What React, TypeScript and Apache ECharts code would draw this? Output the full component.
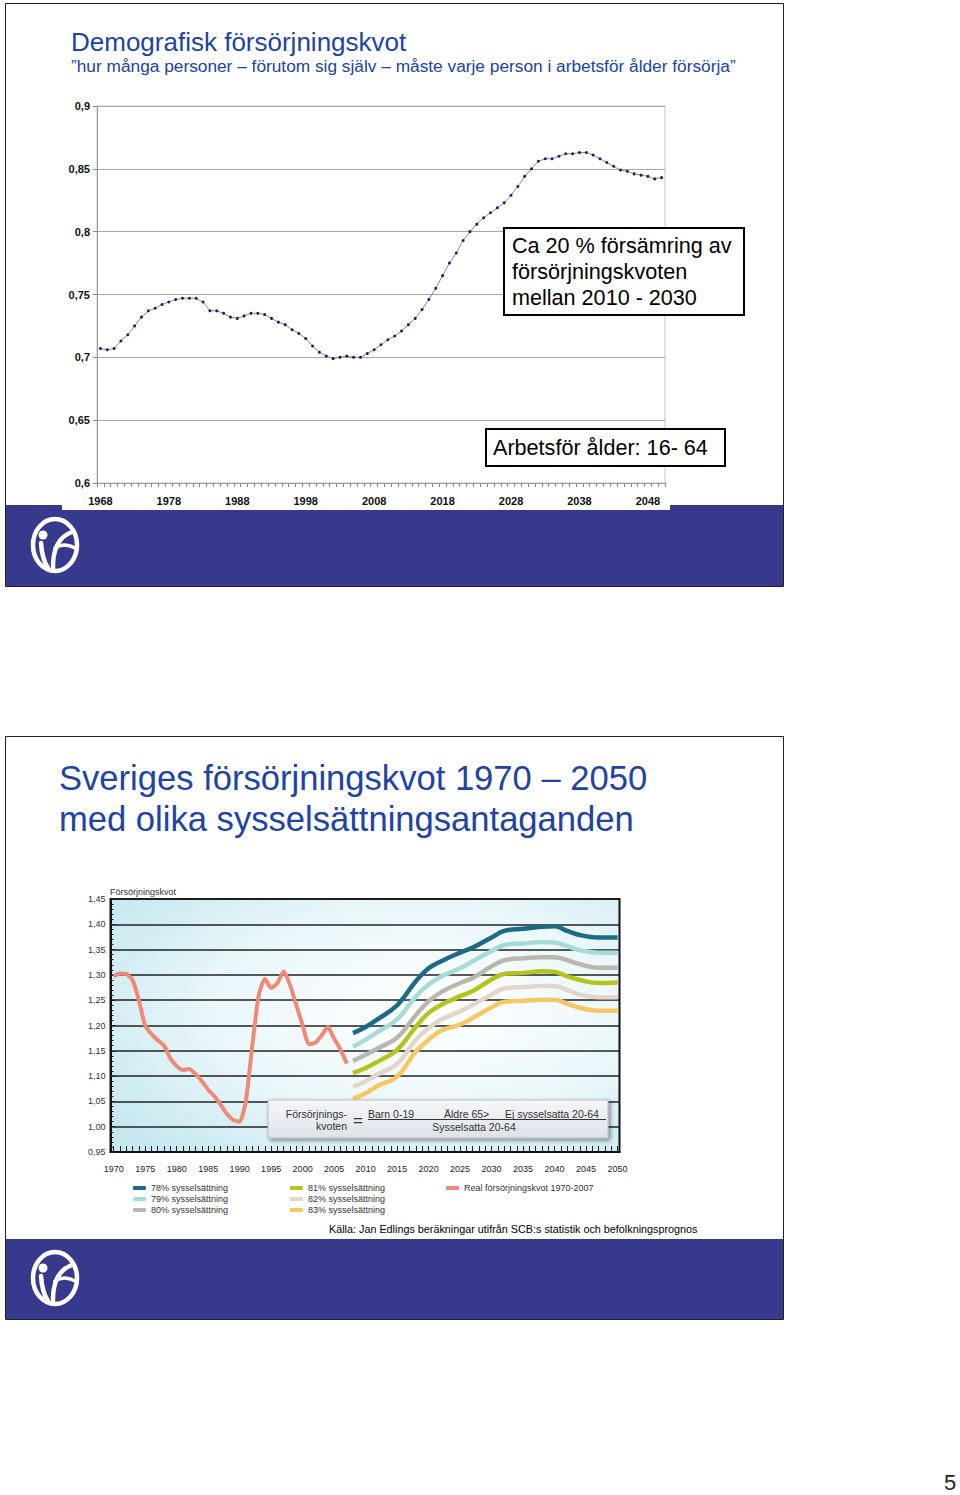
import React, { useEffect, useRef } from "react";
import * as echarts from "echarts";

// ---------- Top chart data ----------
const topYears: string[] = Array.from({ length: 83 }, (_, i) => String(1968 + i));
const topValues: number[] = [
  0.707, 0.706, 0.707, 0.713, 0.718, 0.725, 0.732, 0.737, 0.739, 0.742,
  0.744, 0.746, 0.747, 0.747, 0.747, 0.744, 0.737, 0.737, 0.735, 0.732,
  0.731, 0.733, 0.735, 0.735, 0.734, 0.731, 0.728, 0.726, 0.722, 0.719,
  0.715, 0.709, 0.704, 0.701, 0.699, 0.700, 0.701, 0.700, 0.700, 0.703,
  0.706, 0.710, 0.714, 0.717, 0.721, 0.726, 0.731, 0.738, 0.746, 0.755,
  0.765, 0.775, 0.783, 0.793, 0.800, 0.806, 0.811, 0.815, 0.819, 0.823,
  0.829, 0.836, 0.844, 0.850, 0.856, 0.858, 0.858, 0.860, 0.862, 0.862,
  0.863, 0.863, 0.861, 0.858, 0.855, 0.852, 0.849, 0.848, 0.846, 0.845,
  0.844, 0.842, 0.843,
];

// ---------- Bottom chart data ----------
const realYears: number[] = Array.from({ length: 38 }, (_, i) => 1970 + i);
const realValues: number[] = [
  1.297, 1.303, 1.302, 1.29, 1.25, 1.2, 1.183, 1.171, 1.16, 1.135,
  1.12, 1.112, 1.114, 1.104, 1.09, 1.073, 1.06, 1.043, 1.025, 1.013,
  1.01, 1.052, 1.16, 1.258, 1.292, 1.274, 1.284, 1.307, 1.28, 1.24,
  1.2, 1.163, 1.166, 1.18, 1.197, 1.174, 1.153, 1.125,
];
const projYears: number[] = [2008, 2010, 2012, 2015, 2018, 2020, 2022, 2025, 2027, 2030, 2032, 2035, 2038, 2040, 2042, 2044, 2047, 2050];
const emp78: number[] = [1.185, 1.197, 1.213, 1.24, 1.288, 1.313, 1.327, 1.344, 1.354, 1.374, 1.387, 1.391, 1.395, 1.396, 1.387, 1.379, 1.374, 1.374];
const emp79: number[] = [1.158, 1.172, 1.188, 1.212, 1.258, 1.281, 1.297, 1.313, 1.327, 1.347, 1.359, 1.362, 1.365, 1.364, 1.357, 1.349, 1.344, 1.344];
const emp80: number[] = [1.13, 1.142, 1.155, 1.176, 1.221, 1.248, 1.266, 1.284, 1.294, 1.317, 1.329, 1.333, 1.335, 1.335, 1.329, 1.321, 1.314, 1.314];
const emp81: number[] = [1.106, 1.116, 1.129, 1.152, 1.198, 1.225, 1.241, 1.258, 1.268, 1.291, 1.302, 1.304, 1.307, 1.306, 1.297, 1.29, 1.284, 1.285];
const emp82: number[] = [1.079, 1.09, 1.104, 1.124, 1.172, 1.195, 1.212, 1.228, 1.241, 1.261, 1.273, 1.276, 1.278, 1.278, 1.27, 1.261, 1.256, 1.256];
const emp83: number[] = [1.055, 1.066, 1.081, 1.099, 1.149, 1.172, 1.19, 1.202, 1.215, 1.236, 1.247, 1.249, 1.251, 1.251, 1.243, 1.235, 1.229, 1.229];
const bottomLabelYears: number[] = [1970, 1975, 1980, 1985, 1990, 1995, 2000, 2005, 2010, 2015, 2020, 2025, 2030, 2035, 2040, 2045, 2050];
const bottomTickYears: number[] = Array.from({ length: 81 }, (_, i) => 1970 + i);

const seriesNames = [
  "78% sysselsättning",
  "79% sysselsättning",
  "80% sysselsättning",
  "81% sysselsättning",
  "82% sysselsättning",
  "83% sysselsättning",
];
const realName = "Real försörjningskvot 1970-2007";
const projColors = ["#1b6a86", "#a6dcd6", "#bab7ae", "#b6c21e", "#e2d6ca", "#f7c765"];
const realColor = "#f08a76";

const BLUE = "#373a8c";
const TITLE_BLUE = "#2143a3";

function logo(cx: number, cy: number) {
  const s = { stroke: "#fff", fill: "none", lineWidth: 4.5, lineCap: "round" };
  return [
    { type: "ellipse", z: 5, shape: { cx, cy, rx: 22, ry: 26 }, style: { ...s } },
    { type: "circle", z: 5, shape: { cx: cx - 12, cy: cy - 10, r: 4.5 }, style: { fill: "#fff" } },
    { type: "bezierCurve", z: 5, shape: { x1: cx - 14, y1: cy - 2, cpx1: cx - 13, cpy1: cy + 14, x2: cx - 7, y2: cy + 23 }, style: { ...s } },
    { type: "bezierCurve", z: 5, shape: { x1: cx - 2, y1: cy + 25, cpx1: cx - 3, cpy1: cy - 6, x2: cx + 17, y2: cy - 13 }, style: { ...s } },
    { type: "bezierCurve", z: 5, shape: { x1: cx, y1: cy + 3, cpx1: cx + 9, cpy1: cy - 3, x2: cx + 20, y2: cy + 3 }, style: { ...s, lineWidth: 3.5 } },
  ];
}

function txt(text: string, x: number, y: number, font: string, fill: string, align = "left", z = 10) {
  return {
    type: "text",
    z,
    style: { text, x, y, font, fill, textAlign: align, textVerticalAlign: "middle", align, verticalAlign: "middle" },
  };
}

const legendText = { fontSize: 9, color: "#333", lineHeight: 10, fontFamily: "'Liberation Sans', Arial" };

export default function App() {
  const ref = useRef<HTMLDivElement>(null);
  useEffect(() => {
    if (!ref.current) return;
    const chart = echarts.init(ref.current, null, { renderer: "svg" });
    const lineSeries = [emp78, emp79, emp80, emp81, emp82, emp83].map((vals, k) => ({
      name: seriesNames[k],
      type: "line",
      xAxisIndex: 1,
      yAxisIndex: 1,
      smooth: 0.4,
      showSymbol: false,
      z: 3,
      itemStyle: { color: projColors[k] },
      lineStyle: { color: projColors[k], width: 4.5 },
      data: projYears.map((y, i) => [y, vals[i]]),
    }));
    const option: any = {
      animation: false,
      backgroundColor: "#fff",
      grid: [
        { left: 97, top: 106, width: 568, height: 377, show: true, backgroundColor: "#fff", borderColor: "#c4c4c4", borderWidth: 1 },
        {
          left: 110.5, top: 899, width: 509, height: 253, show: true,
          borderColor: "#111", borderWidth: 2,
          backgroundColor: new echarts.graphic.RadialGradient(0.62, 0.45, 0.75, [
            { offset: 0, color: "#ffffff" },
            { offset: 0.55, color: "#eaf7fa" },
            { offset: 1, color: "#c6e8f0" },
          ]),
        },
      ],
      xAxis: [
        {
          gridIndex: 0, type: "category", data: topYears, boundaryGap: true,
          axisLine: { lineStyle: { color: "#9a9a9a" } },
          axisTick: { show: true, interval: 0, length: 4, lineStyle: { color: "#888" } },
          axisLabel: { interval: 9, margin: 12, fontSize: 11, fontWeight: "bold", color: "#111", fontFamily: "'Liberation Sans Narrow', 'Liberation Sans', Arial" },
          splitLine: { show: false },
        },
        {
          gridIndex: 1, type: "value", min: 1969.5, max: 2050.3,
          axisLine: { show: true, lineStyle: { color: "#111", width: 2 } },
          axisTick: { show: true, inside: true, length: 6, customValues: bottomTickYears, lineStyle: { color: "#222", width: 1 } },
          axisLabel: { customValues: bottomLabelYears, margin: 12, fontSize: 9, color: "#222", fontFamily: "'Liberation Sans', Arial", formatter: (v: number) => String(Math.round(v)) },
          splitLine: { show: false },
        },
      ],
      yAxis: [
        {
          gridIndex: 0, type: "value", min: 0.6, max: 0.9, interval: 0.05,
          axisLine: { show: true, lineStyle: { color: "#9a9a9a" } },
          axisTick: { show: true, length: 4, lineStyle: { color: "#888" } },
          axisLabel: {
            margin: 7, fontSize: 11, fontWeight: "bold", color: "#111",
            fontFamily: "'Liberation Sans Narrow', 'Liberation Sans', Arial",
            formatter: (v: number) => String(+v.toFixed(2)).replace(".", ","),
          },
          splitLine: { show: true, lineStyle: { color: "#a8a8a8", width: 1 } },
        },
        {
          gridIndex: 1, type: "value", min: 0.95, max: 1.45, interval: 0.05,
          axisLine: { show: true, lineStyle: { color: "#111", width: 2 } },
          axisTick: { show: true, inside: true, length: 5, lineStyle: { color: "#222" } },
          minorTick: { show: true, splitNumber: 5, length: 3, lineStyle: { color: "#222" } },
          axisLabel: {
            margin: 5, fontSize: 9, color: "#333", fontFamily: "'Liberation Sans', Arial",
            formatter: (v: number) => v.toFixed(2).replace(".", ","),
          },
          splitLine: { show: true, lineStyle: { color: "#222", width: 1.5 } },
        },
      ],
      legend: [
        {
          left: 128, top: 1178, orient: "vertical", itemGap: 1, itemWidth: 13, itemHeight: 4, icon: "roundRect",
          data: seriesNames.slice(0, 3), textStyle: legendText,
        },
        {
          left: 285, top: 1178, orient: "vertical", itemGap: 1, itemWidth: 13, itemHeight: 4, icon: "roundRect",
          data: seriesNames.slice(3, 6), textStyle: legendText,
        },
        {
          left: 441, top: 1178, orient: "vertical", itemGap: 1, itemWidth: 13, itemHeight: 4, icon: "roundRect",
          data: [realName], textStyle: legendText,
        },
      ],
      series: [
        {
          name: "Försörjningskvot",
          type: "line", xAxisIndex: 0, yAxisIndex: 0, data: topValues,
          symbol: "circle", symbolSize: 3, showSymbol: true, showAllSymbol: true,
          lineStyle: { color: "#8585b8", width: 1 },
          itemStyle: { color: "#1e1e58" },
        },
        {
          name: realName, type: "line", xAxisIndex: 1, yAxisIndex: 1, smooth: 0.2, showSymbol: false, z: 3,
          itemStyle: { color: realColor }, lineStyle: { color: realColor, width: 4 },
          data: realYears.map((y, i) => [y, realValues[i]]),
        },
        ...lineSeries,
      ],
      graphic: [
        // Top slide frame and footer bar
        { type: "rect", z: -10, shape: { x: 5.5, y: 3.5, width: 778, height: 583 }, style: { fill: "#fff", stroke: "#222", lineWidth: 1 } },
        { type: "rect", z: 1, shape: { x: 6, y: 505, width: 777, height: 81 }, style: { fill: BLUE } },
        { type: "rect", z: 1, shape: { x: 62, y: 505, width: 608, height: 5 }, style: { fill: "#fff" } },
        ...logo(55, 545),
        txt("Demografisk försörjningskvot", 71, 42, "26px 'Liberation Sans', Arial", TITLE_BLUE),
        txt("”hur många personer – förutom sig själv – måste varje person i arbetsför ålder försörja”", 71, 66, "17.3px 'Liberation Sans', Arial", TITLE_BLUE),
        { type: "rect", z: 10, shape: { x: 504, y: 228, width: 240, height: 87 }, style: { fill: "#fff", stroke: "#000", lineWidth: 2 } },
        txt("Ca 20 % försämring av", 512, 245, "21.6px 'Liberation Sans', Arial", "#000", "left", 11),
        txt("försörjningskvoten", 512, 271, "21.6px 'Liberation Sans', Arial", "#000", "left", 11),
        txt("mellan 2010 - 2030", 512, 297, "21.6px 'Liberation Sans', Arial", "#000", "left", 11),
        { type: "rect", z: 10, shape: { x: 486, y: 429, width: 239, height: 37 }, style: { fill: "#fff", stroke: "#000", lineWidth: 2 } },
        txt("Arbetsför ålder: 16- 64", 493, 447, "21.6px 'Liberation Sans', Arial", "#000", "left", 11),

        // Bottom slide frame and footer bar
        { type: "rect", z: -10, shape: { x: 5.5, y: 736.5, width: 778, height: 583 }, style: { fill: "#fff", stroke: "#222", lineWidth: 1 } },
        { type: "rect", z: 1, shape: { x: 6, y: 1239, width: 777, height: 80 }, style: { fill: BLUE } },
        ...logo(55, 1278),
        txt("Sveriges försörjningskvot 1970 – 2050", 59, 778, "34.6px 'Liberation Sans', Arial", TITLE_BLUE),
        txt("med olika sysselsättningsantaganden", 59, 819, "34.6px 'Liberation Sans', Arial", TITLE_BLUE),
        txt("Försörjningskvot", 110, 892, "9px 'Liberation Sans', Arial", "#333"),
        // Formula box
        {
          type: "rect", z: 10, shape: { x: 268, y: 1100, width: 340, height: 38 },
          style: {
            fill: new echarts.graphic.LinearGradient(0, 0, 0, 1, [
              { offset: 0, color: "#f6f7f9" },
              { offset: 1, color: "#dde2e8" },
            ]),
            stroke: "#b8bcc2", lineWidth: 1,
            shadowBlur: 4, shadowOffsetX: 2, shadowOffsetY: 2, shadowColor: "rgba(0,0,0,0.45)",
          },
        },
        txt("Försörjnings-", 347, 1114, "10.5px 'Liberation Sans', Arial", "#333", "right", 11),
        txt("kvoten", 347, 1126, "10.5px 'Liberation Sans', Arial", "#333", "right", 11),
        txt("=", 358, 1120, "17px 'Liberation Sans', Arial", "#333", "center", 11),
        txt("Barn 0-19", 368, 1114, "10.5px 'Liberation Sans', Arial", "#333", "left", 11),
        txt("Äldre 65>", 444, 1114, "10.5px 'Liberation Sans', Arial", "#333", "left", 11),
        txt("Ej sysselsatta 20-64", 505, 1114, "10.5px 'Liberation Sans', Arial", "#333", "left", 11),
        { type: "line", z: 11, shape: { x1: 368, y1: 1119.5, x2: 606, y2: 1119.5 }, style: { stroke: "#333", lineWidth: 1 } },
        txt("Sysselsatta 20-64", 474, 1127, "10.5px 'Liberation Sans', Arial", "#333", "center", 11),
        txt("Källa: Jan Edlings beräkningar utifrån SCB:s statistik och befolkningsprognos", 329, 1229, "10.8px 'Liberation Sans', Arial", "#000"),

        // Page number
        txt("5", 950, 1482, "22px 'Liberation Sans', Arial", "#222", "center"),
      ],
    };
    chart.setOption(option);
    return () => chart.dispose();
  }, []);
  return <div ref={ref} style={{ position: "absolute", left: 0, top: 0, width: 960, height: 1495 }} />;
}
